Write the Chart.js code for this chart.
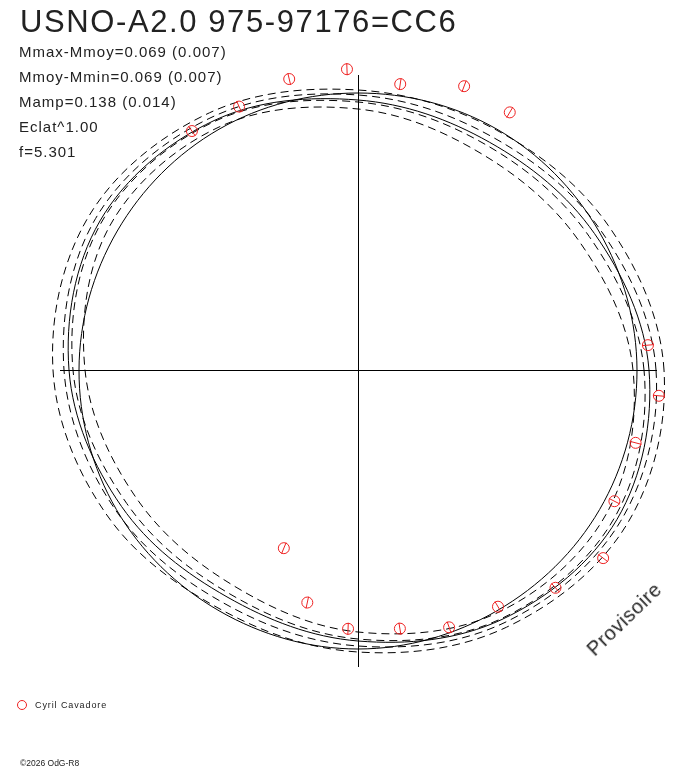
<!DOCTYPE html>
<html>
<head>
<meta charset="utf-8">
<script src="https://cdn.jsdelivr.net/npm/chart.js@4.4.1/dist/chart.umd.min.js"></script>
<style>
  body { margin: 0; background: #fff; }
  #wrap { position: relative; width: 688px; height: 768px; font-family: "Liberation Sans", Arial, sans-serif; color: #222; }
  #wrap div { position: absolute; white-space: nowrap; line-height: 1; }
  .title { left: 20px; top: 6px; font-size: 31px; letter-spacing: 1.6px; }
  .stat { left: 19px; font-size: 15px; letter-spacing: 1px; }
  .mark { font-size: 20px; letter-spacing: 0.6px; left: 624px; top: 619px; transform: translate(-50%, -50%) rotate(-44deg); }
  .legend { left: 35px; top: 701px; font-size: 9px; letter-spacing: 0.9px; }
  .swatch { left: 17px; top: 700px; width: 10px; height: 10px; box-sizing: border-box; border: 1px solid #e22; border-radius: 50%; }
  .copy { left: 20px; top: 759px; font-size: 8.5px; }
</style>
</head>
<body>
<div id="wrap">
  <canvas id="myChart"></canvas>
  <div class="title">USNO-A2.0 975-97176=CC6</div>
  <div class="stat" style="top:43.5px">Mmax-Mmoy=0.069 (0.007)</div>
  <div class="stat" style="top:68.5px">Mmoy-Mmin=0.069 (0.007)</div>
  <div class="stat" style="top:93.5px">Mamp=0.138 (0.014)</div>
  <div class="stat" style="top:118.5px">Eclat^1.00</div>
  <div class="stat" style="top:143.5px">f=5.301</div>
  <div class="mark">Provisoire</div>
  <div class="swatch"></div>
  <div class="legend">Cyril Cavadore</div>
  <div class="copy">©2026 OdG-R8</div>
</div>
<script>
// observations: phase angle (deg, counter-clockwise from +x) and radius
var obsAngle = [-112.6, -102.3, -92.2, -80.8, -70.5, -59.4, -47.8, -37.5, -27.1, -14.7, -4.9, 4.9, 59.5, 69.5, 81.6, 92.1, 103.3, 114.3, 124.8];
var obsRadius = [193, 238, 259, 262, 273, 275, 294, 309, 288, 287, 302, 291, 299, 303, 289, 301, 299, 289, 291];

// fitted curves, radius sampled every 30 deg
var curveAngles = [0, 30, 60, 90, 120, 150, 180, 210, 240, 270, 300, 330];
var fitCurve   = [291, 273, 263, 270, 288, 298, 289, 273, 262, 271, 288, 299];
var meanCircle = [279, 278, 278, 277, 278, 278, 279, 279, 278, 279, 278, 279];
var bandOuter  = [306, 289, 277, 280, 297, 310, 305, 290, 276, 282, 297, 310];
var bandUpper  = [298, 280, 269, 275, 292, 303, 294, 280, 269, 276, 292, 303];
var bandLower  = [286, 267, 259, 268, 287, 296, 285, 267, 258, 269, 287, 296];
var bandInner  = [275, 256, 249, 261, 280, 287, 273, 256, 249, 262, 280, 287];

function polar(angles, radii) {
  return angles.map(function (a, i) {
    var t = a * Math.PI / 180;
    return { x: radii[i] * Math.cos(t), y: radii[i] * Math.sin(t) };
  });
}

function curve(radii, dashed) {
  return {
    data: polar(curveAngles, radii),
    closed: true,
    showLine: true,
    borderColor: '#000',
    borderWidth: 1,
    borderDash: dashed ? [8, 5] : [],
    tension: 0.35,
    pointRadius: 0,
    clip: false
  };
}

// close the curves as loops (like radar lines)
var closeLoop = {
  id: 'closeLoop',
  afterDatasetUpdate: function (chart, args) {
    var line = args.meta.dataset;
    if (line && chart.data.datasets[args.index].closed) {
      line._loop = true;
      line._fullLoop = true;
    }
  }
};

var axisOnlyZero = function (axis) { axis.ticks = [{ value: 0 }]; };

var ctx = document.getElementById('myChart');
var myChart = new Chart(ctx, {
  type: 'line',
  data: {
    datasets: [
      {
        data: polar(obsAngle, obsRadius),
        showLine: false,
        pointStyle: 'line',
        pointRadius: 6,
        pointBorderColor: '#e22',
        pointBorderWidth: 1,
        pointRotation: function (c) { return -obsAngle[c.dataIndex]; },
        clip: false
      },
      {
        data: polar(obsAngle, obsRadius),
        showLine: false,
        pointStyle: 'circle',
        pointRadius: 5.5,
        pointBorderColor: '#e22',
        pointBackgroundColor: 'rgba(0,0,0,0)',
        pointBorderWidth: 1,
        clip: false
      },
      curve(fitCurve, false),
      curve(meanCircle, false),
      curve(bandOuter, true),
      curve(bandUpper, true),
      curve(bandLower, true),
      curve(bandInner, true)
    ]
  },
  options: {
    maintainAspectRatio: false,
    responsive: true,
    animation: false,
    events: [],
    layout: { padding: { left: 60, right: 31, top: 75, bottom: 101 } },
    elements: { line: { capBezierPoints: false } },
    plugins: { legend: { display: false }, tooltip: { enabled: false } },
    scales: {
      x: {
        type: 'linear', min: -298, max: 299,
        afterBuildTicks: axisOnlyZero,
        ticks: { display: false },
        border: { display: false },
        grid: { color: '#000', lineWidth: 1, drawTicks: false }
      },
      y: {
        type: 'linear', min: -297, max: 295,
        afterBuildTicks: axisOnlyZero,
        ticks: { display: false },
        border: { display: false },
        grid: { color: '#000', lineWidth: 1, drawTicks: false }
      }
    }
  },
  plugins: [closeLoop]
});
</script>
</body>
</html>
